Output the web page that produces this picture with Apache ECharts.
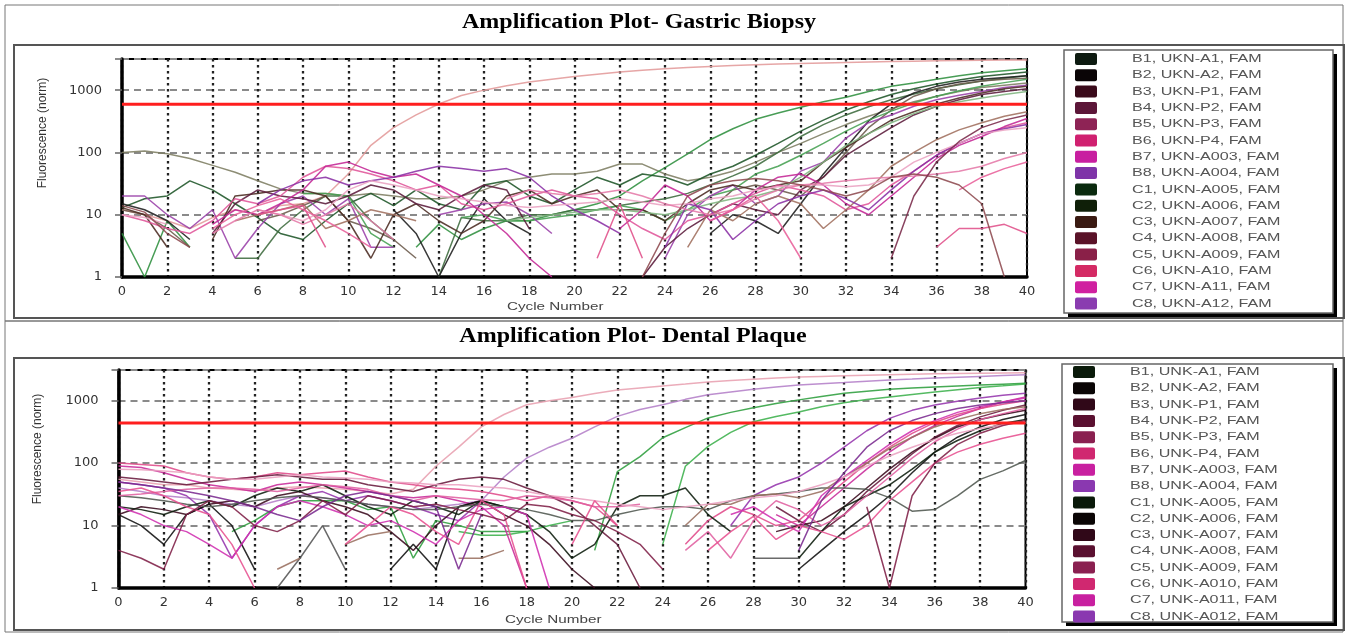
<!DOCTYPE html>
<html><head><meta charset="utf-8">
<script src="https://cdn.jsdelivr.net/npm/echarts@6/dist/echarts.min.js"></script>
<style>html,body{margin:0;padding:0;background:#fff}#c{width:1348px;height:635px}</style>
</head><body><div id="c"></div>
<script>
const _ = null;
const cycles = [0,1,2,3,4,5,6,7,8,9,10,11,12,13,14,15,16,17,18,19,20,21,22,23,24,25,26,27,28,29,30,31,32,33,34,35,36,37,38,39,40];
const yTickLabels = [1, 10, 100, 1000];
const yMaxTop = 3162;
const yMaxBottom = 3100;
const thresholdTop = 595;
const thresholdBottom = 440;
const titleTop = 'Amplification Plot- Gastric Biopsy';
const titleBottom = 'Amplification Plot- Dental Plaque';
const yName = 'Fluorescence (norm)';
const xName = 'Cycle Number';

const legendTop = ['B1, UKN-A1, FAM','B2, UKN-A2, FAM','B3, UKN-P1, FAM','B4, UKN-P2, FAM','B5, UKN-P3, FAM','B6, UKN-P4, FAM','B7, UKN-A003, FAM','B8, UKN-A004, FAM','C1, UKN-A005, FAM','C2, UKN-A006, FAM','C3, UKN-A007, FAM','C4, UKN-A008, FAM','C5, UKN-A009, FAM','C6, UKN-A10, FAM','C7, UKN-A11, FAM','C8, UKN-A12, FAM'];
const legendBottom = ['B1, UNK-A1, FAM','B2, UNK-A2, FAM','B3, UNK-P1, FAM','B4, UNK-P2, FAM','B5, UNK-P3, FAM','B6, UNK-P4, FAM','B7, UNK-A003, FAM','B8, UNK-A004, FAM','C1, UNK-A005, FAM','C2, UNK-A006, FAM','C3, UNK-A007, FAM','C4, UNK-A008, FAM','C5, UNK-A009, FAM','C6, UNK-A010, FAM','C7, UNK-A011, FAM','C8, UNK-A012, FAM'];
const legendColorsTop = ['#0d1a10','#0a0506','#3a0a1a','#5c1638','#8e2355','#d02070','#c81fa0','#7e34a8','#0a2a0e','#0f1f08','#3a1a12','#5a1228','#8a2048','#d42a64','#d020a0','#8a3cb0'];
const legendColorsBottom = ['#0a1a0a','#0a0505','#300818','#5a1030','#8a2050','#d02870','#c820a0','#8a38b0','#0a1a0a','#0a0505','#300818','#5a1030','#8a2050','#d02870','#c820a0','#8a38b0'];

// ---- Top panel (Gastric Biopsy) series values, cycles 0..40 ----
const T1 = [12,10,8,6,9,12,10,14,15,20, 45,130,250,400,600,820,1000,1180,1350,1500, 1650,1800,1950,2080,2200,2300,2400,2480,2550,2620, 2680,2730,2780,2830,2880,2920,2960,3000,3030,3050,3060];
const T2 = [100,105,95,80,62,48,35,26,22,22, 20,22,20,18,18,20,25,35,40,45, 45,50,65,65,45,35,40,50,70,100, 140,200,280,380,500,650,800,950,1100,1200,1300];
const T3 = [5,1,8,3,_,_,_,_,_,_, _,_,_,3,7,4,6,8,8,10, 12,15,20,35,57,95,160,240,340,430, 530,650,770,950,1150,1300,1500,1700,1900,2050,2200];
const T4 = [13,18,20,35,25,15,9,5,4,8, 15,22,14,25,15,12,30,35,20,15, 25,40,30,45,40,30,45,60,90,140, 220,330,480,650,850,1050,1250,1450,1650,1800,1950];
const T5 = [_,_,_,_,_,2,2,6,12,20, 20,8,4,_,1,9,8,8,10,10, 12,12,14,16,18,22,30,42,60,100, 180,280,400,540,700,870,1050,1220,1400,1550,1700];
const T6 = [15,12,8,4,_,_,_,_,_,_, _,_,12,5,1,5,18,8,5,_, _,_,_,_,_,_,5,10,8,5, 15,45,120,320,600,900,1150,1350,1500,1600,1700];
const T7 = [12,10,6,3,_,_,8,10,14,20, 8,6,4,2,_,_,_,_,_,_, _,_,_,_,_,_,12,25,30,25, 20,40,100,250,480,800,1050,1250,1400,1500,1550];
const T8 = [_,_,_,_,_,_,_,_,22,22, 20,5,3,_,_,9,10,8,8,9, 10,12,14,12,8,12,20,25,45,60, 90,140,220,330,460,620,800,980,1150,1320,1500];
const T9 = [20,20,10,6,12,2,6,15,20,10, 18,3,3,_,10,12,15,16,10,5, _,_,_,_,2,10,20,30,15,20, 50,70,170,300,400,550,700,830,950,1100,1200];
const T10 = [13,10,3,_,4,20,22,25,25,20, 8,2,10,15,8,5,8,20,25,15, 20,25,12,12,8,15,25,30,25,30, 35,70,120,200,330,450,600,750,900,1050,1150];
const T11 = [_,_,_,_,5,15,25,20,18,15, 20,30,25,15,12,20,30,25,6,_, _,_,_,1,3,6,10,15,12,10, 25,40,90,150,250,400,550,700,850,950,1050];
const T12 = [_,_,_,_,_,_,_,_,_,_, _,_,_,_,_,_,_,8,9,10, 11,12,12,11,10,12,15,18,20,25, 40,70,130,200,300,420,550,650,750,850,950];
const T13 = [10,8,6,5,8,18,15,20,40,60, 55,45,35,25,30,15,12,15,20,25, 20,18,10,6,4,8,10,15,22,30, 25,20,12,15,30,50,90,140,200,250,300];
const T14 = [_,_,_,_,7,12,10,15,25,60, 70,50,40,45,30,20,10,5,2,1, _,_,6,12,30,20,8,12,25,40, 45,30,15,10,20,40,80,130,180,260,350];
const T15 = [_,_,_,_,_,8,10,12,15,6, 8,12,10,8,_,_,_,_,_,_, _,_,_,_,_,3,12,8,15,20, 15,6,12,25,60,100,160,230,300,380,450];
const T16 = [_,_,_,_,_,_,15,25,35,40, 30,35,40,50,60,55,50,55,40,20, 12,8,5,_,3,15,12,4,8,15, 20,25,18,12,25,50,90,140,200,240,280];
const T17 = [10,9,7,_,_,_,12,10,8,12, 25,35,30,25,20,18,16,14,13,14, 15,16,18,16,14,15,18,20,25,28, 30,30,28,30,40,70,100,140,200,230,250];
const T18 = [_,_,_,_,5,8,12,10,7,10, 15,8,4,_,_,_,_,18,25,22, 20,22,25,20,15,12,10,12,18,25, 30,32,35,38,40,42,45,50,60,80,100];
const T19 = [_,_,_,_,_,_,10,12,14,3, _,_,_,_,_,_,_,_,_,_, _,2,15,2,_,_,_,_,_,_, _,_,_,_,_,_,3,6,6,7,5];
const T20 = [_,_,_,_,6,10,14,18,12,8, 5,3,_,_,_,_,_,_,_,_, _,_,_,_,_,_,8,12,20,8, 2,_,_,_,_,_,_,25,40,55,70];
const T21 = [14,11,5,3,_,_,_,_,_,_, _,_,_,_,_,_,_,_,_,_, _,_,_,1,5,20,30,35,38,35, 30,25,20,25,40,45,40,30,15,1,_];
const T22 = [_,_,_,_,_,_,_,_,_,_, _,_,_,_,_,_,_,_,_,_, _,_,_,_,_,_,_,_,_,_, _,_,_,_,2,20,70,150,250,330,400];
const topSeries = [T1,T2,T3,T4,T5,T6,T7,T8,T9,T10,T11,T12,T13,T14,T15,T16,T17,T18,T19,T20,T21,T22];
const topColors = ['#e39a9a','#7d7d62','#2f8f3f','#1e5528','#3d6b3d','#1c1c1c','#6b5a4b','#45a052','#9a40a8','#4b2b22','#5b1b3b','#80b580','#e0559a','#c42595','#a0705e','#8a30a5','#eaa2c2','#e57aa8','#e0508a','#e8609a','#8e4a50','#7a2a4a'];

// ---- Bottom panel (Dental Plaque) series values, cycles 0..40 ----
const B1 = [55,50,45,45,40,38,36,40,42,40, 38,35,32,38,89,180,380,600,860,1000, 1120,1300,1480,1600,1720,1850,2000,2100,2200,2300, 2400,2450,2500,2550,2600,2650,2700,2730,2760,2780,2800];
const B2 = [40,35,30,28,25,22,20,25,30,28, 25,22,20,18,20,22,25,60,120,180, 250,380,560,720,860,1050,1240,1380,1520,1650, 1780,1870,1950,2050,2150,2220,2300,2380,2450,2520,2600];
const B3 = [_,_,_,_,_,8,12,20,25,25, 25,18,20,3,12,10,8,8,8,_, _,4,73,127,255,370,530,650,770,900, 1030,1170,1320,1420,1520,1600,1660,1720,1780,1840,1900];
const B4 = [_,_,_,_,_,_,_,_,_,_, _,_,_,_,_,8,7,7,8,10, 12,_,_,_,5,89,185,310,460,560, 660,800,930,1040,1150,1260,1380,1500,1620,1730,1850];
const B5 = [50,45,40,30,15,3,10,20,30,35, 25,30,25,20,15,12,25,_,_,_, _,_,_,_,_,_,_,10,30,45, 60,100,180,330,520,700,850,980,1100,1220,1320];
const B6 = [90,85,70,55,45,40,35,45,50,45, 40,35,30,28,30,25,20,10,1,_, _,_,_,_,_,_,_,_,_,15, 10,20,40,80,150,260,400,560,750,950,1150];
const B7 = [100,95,90,70,60,55,60,70,65,70, 75,60,50,45,40,38,35,30,25,30, 25,20,10,_,_,5,12,20,15,10, 12,25,50,100,180,300,450,600,750,880,1000];
const B8 = [60,55,50,45,50,55,60,65,60,55, 55,45,40,35,45,55,60,55,40,30, 20,10,5,1,_,_,_,_,_,20, 12,8,15,35,70,140,260,400,550,700,850];
const B9 = [15,20,18,15,22,25,20,30,35,25, 20,15,8,4,10,20,25,15,10,5, 2,1,_,_,_,_,_,_,_,8, 10,12,20,40,80,150,250,380,500,600,700];
const B10 = [15,10,5,15,22,10,2,_,_,_, _,_,2,5,2,20,25,20,_,_, _,_,_,_,_,_,_,_,_,_, 2,4,8,15,30,70,150,260,380,500,600];
const B11 = [20,18,15,20,25,20,30,40,35,45, 30,20,15,25,20,15,25,20,15,8, 3,5,20,30,30,40,15,8,_,_, 3,8,20,30,45,80,150,230,330,430,500];
const B12 = [_,_,_,_,_,_,_,1,3,10, 2,_,_,_,_,_,_,_,_,_, _,_,_,_,_,_,_,_,3,3, 3,_,_,_,_,_,_,_,_,_,_];
const B13 = [30,28,25,22,20,22,25,28,30,28, 25,22,20,18,18,20,22,20,18,15, 12,12,15,18,20,20,18,25,30,32, 35,40,40,38,28,17,18,30,55,75,110];
const B14 = [_,_,_,_,_,_,_,2,3,_, 5,7,8,_,_,3,3,4,_,_, _,_,_,_,_,10,22,22,30,32, 28,35,60,100,170,260,380,500,620,720,800];
const B15 = [30,32,35,38,40,40,38,35,40,45, 42,38,30,25,30,28,26,25,30,28, 25,20,20,22,_,4,8,3,12,25, 18,10,15,30,60,120,220,350,500,620,750];
const B16 = [20,15,10,8,5,3,10,20,25,20, 15,10,12,8,5,12,18,20,15,1, _,_,_,_,_,_,_,15,20,12, 8,30,60,110,200,330,480,650,800,950,1100];
const B17 = [80,78,75,70,60,55,55,60,65,60, 58,55,50,48,45,45,42,40,35,30, 28,25,22,20,18,20,22,25,28,30, 35,45,60,90,130,180,240,300,360,410,450];
const B18 = [35,40,30,20,15,5,1,_,_,_, 5,10,20,15,8,5,25,15,1,_, 5,25,10,_,_,_,4,8,14,6, 10,8,6,10,25,50,100,150,200,250,300];
const B19 = [4,3,2,15,25,20,10,8,12,25, 15,30,25,20,22,18,15,12,22,20, 15,12,8,5,2,_,_,_,_,_, _,_,_,20,1,30,100,200,300,400,480];
const B20 = [50,45,40,35,30,25,20,15,12,20, 30,35,30,25,20,2,15,_,_,_, _,_,_,_,_,_,_,_,_,_, 4,25,70,180,330,480,620,750,850,930,1000];
const bottomSeries = [B1,B2,B3,B4,B5,B6,B7,B8,B9,B10,B11,B12,B13,B14,B15,B16,B17,B18,B19,B20];
const bottomColors = ['#e8a0b0','#b47fc8','#2e9e3e','#3cb04c','#9535ad','#c82a9a','#e04a8a','#6a1a3e','#3a0a1e','#101010','#0e1e0e','#555555','#505850','#9a7060','#e060a0','#d030b0','#eaa0c0','#e75090','#802048','#7a2a90'];

const chart = echarts.init(document.getElementById('c'));

function mkSeries(list, colors, gi) {
  return list.map((vals, k) => ({
    type: 'line', xAxisIndex: gi, yAxisIndex: gi, symbol: 'none', silent: true,
    lineStyle: { color: colors[k], width: 1.5, opacity: 0.88 },
    data: vals.map((v, i) => [cycles[i], v == null ? '-' : v]),
    z: 2
  }));
}
function thresholdSeries(thr, gi) {
  return {
    type: 'line', xAxisIndex: gi, yAxisIndex: gi, symbol: 'none', silent: true,
    lineStyle: { color: '#ff1e1e', width: 3 },
    data: [[cycles[0], thr], [cycles[cycles.length - 1], thr]], z: 6
  };
}
function xAxisCfg(gi) {
  return {
    type: 'value', gridIndex: gi, min: cycles[0], max: cycles[cycles.length - 1], interval: 2,
    axisLine: { show: true, onZero: false, lineStyle: { color: '#000', width: 3.5 } },
    axisTick: { show: false },
    axisLabel: { color: '#333', fontFamily: 'DejaVu Sans', fontSize: 13, margin: 8 },
    splitLine: { show: true, lineStyle: { color: '#222', width: 2.3, type: [2.5, 3.5] } }
  };
}
function yAxisCfg(gi, max) {
  return {
    type: 'log', logBase: 10, gridIndex: gi, min: 1, max: max,
    axisLine: { show: true, lineStyle: { color: '#000', width: 3.5 } },
    axisTick: { show: true, length: 7, lineStyle: { color: '#666', width: 1.5 } },
    axisLabel: {
      color: '#333', fontFamily: 'DejaVu Sans', fontSize: 13, margin: 20,
      formatter: function (v) {
        const r = Math.round(v);
        return (yTickLabels.indexOf(r) >= 0 && Math.abs(v - r) < 0.01 * r) ? String(r) : '';
      }
    },
    splitLine: { show: true, lineStyle: { color: '#8a8a8a', width: 2, type: [7, 5] } }
  };
}

const graphics = [];
graphics.push({ type: 'rect', shape: { x: 5, y: 5, width: 1338, height: 316 }, style: { fill: 'none', stroke: '#777', lineWidth: 1 }, z: 0 });
graphics.push({ type: 'rect', shape: { x: 5, y: 321, width: 1338, height: 311 }, style: { fill: 'none', stroke: '#777', lineWidth: 1 }, z: 0 });
graphics.push({ type: 'rect', shape: { x: 14, y: 45, width: 1330, height: 273 }, style: { fill: 'none', stroke: '#555', lineWidth: 2 }, z: 0 });
graphics.push({ type: 'rect', shape: { x: 14, y: 358, width: 1330, height: 272 }, style: { fill: 'none', stroke: '#555', lineWidth: 2 }, z: 0 });
graphics.push({ type: 'text', x: 639, y: 23, scaleX: 1.2, style: { text: titleTop, font: 'bold 20px "Liberation Serif"', fill: '#000', textAlign: 'center', align: 'center', textVerticalAlign: 'middle', verticalAlign: 'middle' } });
graphics.push({ type: 'text', x: 633, y: 337, scaleX: 1.2, style: { text: titleBottom, font: 'bold 20px "Liberation Serif"', fill: '#000', textAlign: 'center', align: 'center', textVerticalAlign: 'middle', verticalAlign: 'middle' } });
graphics.push({ type: 'text', x: 43, y: 133, rotation: Math.PI / 2, style: { text: yName, font: '12px "Liberation Sans"', fill: '#333', textAlign: 'center', align: 'center', textVerticalAlign: 'middle', verticalAlign: 'middle' } });
graphics.push({ type: 'text', x: 38, y: 449, rotation: Math.PI / 2, style: { text: yName, font: '12px "Liberation Sans"', fill: '#333', textAlign: 'center', align: 'center', textVerticalAlign: 'middle', verticalAlign: 'middle' } });
graphics.push({ type: 'text', x: 507, y: 307, scaleX: 1.45, style: { text: xName, font: '10.5px "Liberation Sans"', fill: '#444', textAlign: 'left', align: 'left', textVerticalAlign: 'middle', verticalAlign: 'middle' } });
graphics.push({ type: 'text', x: 505, y: 620, scaleX: 1.45, style: { text: xName, font: '10.5px "Liberation Sans"', fill: '#444', textAlign: 'left', align: 'left', textVerticalAlign: 'middle', verticalAlign: 'middle' } });

function legendBox(x, y, w, h, names, colors, sx, tx, cy0, step) {
  graphics.push({ type: 'rect', shape: { x: x + 4, y: y + 4, width: w, height: h }, style: { fill: '#000' }, z: 1 });
  graphics.push({ type: 'rect', shape: { x: x, y: y, width: w, height: h }, style: { fill: '#fff', stroke: '#666', lineWidth: 1.5 }, z: 2 });
  names.forEach((n, i) => {
    const cy = cy0 + i * step;
    graphics.push({ type: 'rect', shape: { x: sx, y: cy - 6, width: 22, height: 12, r: 2 }, style: { fill: colors[i] }, z: 3 });
    graphics.push({ type: 'text', x: tx, y: cy, scaleX: 1.4, z: 3, style: { text: n, font: '11.5px "Liberation Sans"', fill: '#555', textAlign: 'left', align: 'left', textVerticalAlign: 'middle', verticalAlign: 'middle' } });
  });
}
legendBox(1064, 50, 269, 263, legendTop, legendColorsTop, 1075, 1132, 59, 16.3);
legendBox(1062, 364, 271, 258, legendBottom, legendColorsBottom, 1073, 1130, 372, 16.3);

chart.setOption({
  animation: false,
  backgroundColor: '#fff',
  grid: [
    { left: 122, top: 59, width: 905, height: 218, show: true, borderColor: '#000', borderWidth: 2, backgroundColor: 'transparent' },
    { left: 118.5, top: 370, width: 907, height: 218, show: true, borderColor: '#000', borderWidth: 2, backgroundColor: 'transparent' }
  ],
  xAxis: [xAxisCfg(0), xAxisCfg(1)],
  yAxis: [yAxisCfg(0, yMaxTop), yAxisCfg(1, yMaxBottom)],
  series: [].concat(mkSeries(topSeries, topColors, 0), [thresholdSeries(thresholdTop, 0)],
                    mkSeries(bottomSeries, bottomColors, 1), [thresholdSeries(thresholdBottom, 1)]),
  graphic: graphics
});
</script></body></html>
